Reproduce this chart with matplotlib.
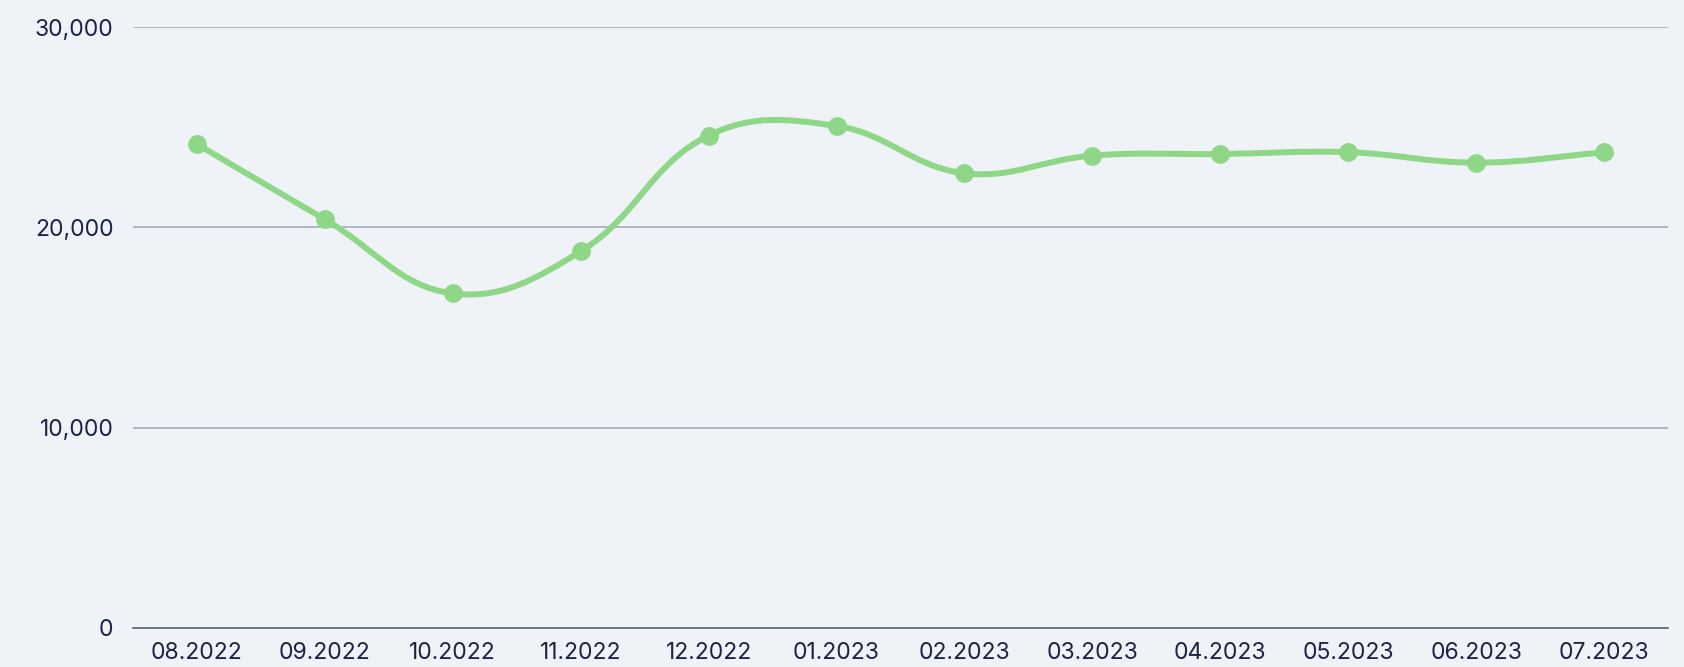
import numpy as np
import matplotlib.pyplot as plt
from matplotlib.path import Path
from matplotlib.patches import PathPatch
from matplotlib.ticker import FuncFormatter

months = ["08.2022", "09.2022", "10.2022", "11.2022", "12.2022", "01.2023",
          "02.2023", "03.2023", "04.2023", "05.2023", "06.2023", "07.2023"]
values = [24150, 20400, 16700, 18800, 24580, 25060,
          22700, 23580, 23660, 23750, 23230, 23740]
y_ticks = [0, 10000, 20000, 30000]

BG = "#eff2f7"
GREEN = "#8ed787"
TEXT = "#1b2444"

plt.rcParams['font.family'] = ['Inter', 'DejaVu Sans']

fig = plt.figure(figsize=(16.84, 6.67), dpi=100, facecolor=BG)
ax = fig.add_axes([133 / 1684, 39 / 667, 1535 / 1684, 601 / 667])
ax.set_facecolor(BG)

x = np.arange(len(months))
ax.set_xlim(-0.5, len(months) - 0.5)
ax.set_ylim(0, 30000)

# smooth curve like chart.js (tension 0.4), distances in pixel space
pts = ax.transData.transform(np.column_stack([x, values]))
t = 0.4
n = len(pts)
cps = []
for i in range(n):
    prev = pts[max(i - 1, 0)]
    cur = pts[i]
    nxt = pts[min(i + 1, n - 1)]
    d01 = np.hypot(*(cur - prev))
    d12 = np.hypot(*(nxt - cur))
    tot = d01 + d12
    s01 = d01 / tot if tot else 0
    s12 = d12 / tot if tot else 0
    cp_prev = cur - t * s01 * (nxt - prev)
    cp_next = cur + t * s12 * (nxt - prev)
    cps.append((cp_prev, cp_next))

verts = [pts[0]]
codes = [Path.MOVETO]
for i in range(n - 1):
    verts += [cps[i][1], cps[i + 1][0], pts[i + 1]]
    codes += [Path.CURVE4] * 3
verts = ax.transData.inverted().transform(np.array(verts))
ax.add_patch(PathPatch(Path(verts, codes), fill=False, edgecolor=GREEN,
                       lw=4.3, capstyle='round', joinstyle='round', zorder=3))
ax.plot(x, values, 'o', color=GREEN, markersize=12.5, zorder=4)

ax.set_xticks(x)
ax.set_xticklabels(months)
ax.set_yticks(y_ticks)
ax.yaxis.set_major_formatter(FuncFormatter(lambda v, p: f"{int(v):,}"))
ax.tick_params(axis='both', length=0, labelsize=16.5, colors=TEXT)
ax.tick_params(axis='y', pad=14)
ax.tick_params(axis='x', pad=10)

ax.grid(axis='y', color="#b0b6c6", lw=1.4)
ax.set_axisbelow(True)
for s in ["top", "right", "left"]:
    ax.spines[s].set_visible(False)
ax.spines["bottom"].set_color("#5b6582")
ax.spines["bottom"].set_linewidth(1.2)
ax.spines["bottom"].set_zorder(2)

fig.savefig("out.png", dpi=100, facecolor=BG)
